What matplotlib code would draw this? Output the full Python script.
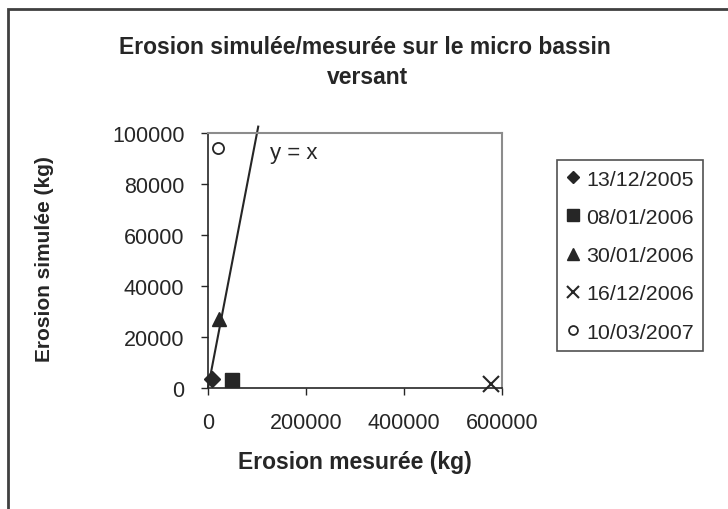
import matplotlib
matplotlib.use("Agg")
import matplotlib.pyplot as plt
from matplotlib.patches import Rectangle

plt.rcParams['font.family'] = ['Liberation Sans', 'DejaVu Sans']

# Données : érosion mesurée / simulée (kg)
dates = ['13/12/2005', '08/01/2006', '30/01/2006', '16/12/2006', '10/03/2007']
erosion_mesuree = [8000, 49000, 22000, 577000, 20000]
erosion_simulee = [3500, 3100, 27000, 1600, 94000]
marqueurs = ['D', 's', '^', 'x', 'o']
ligne_xy = [0, 102500]

ink = '#262626'

fig = plt.figure(figsize=(7.28, 5.10), dpi=100)
ax = fig.add_axes([208 / 728, 1 - 389 / 510, 294 / 728, 255 / 510])

for d, xm, ys, m in zip(dates, erosion_mesuree, erosion_simulee, marqueurs):
    if m == 'o':
        ax.plot(xm, ys, m, ms=8, mfc='white', mec=ink, mew=1.3, label=d, clip_on=False)
    elif m == 'x':
        ax.plot(xm, ys, m, ms=11, mec=ink, mew=1.5, label=d, clip_on=False)
    elif m == 'D':
        ax.plot(xm, ys, m, ms=8, color=ink, label=d, clip_on=False)
    else:
        ax.plot(xm, ys, m, ms=10, color=ink, label=d, clip_on=False)

ax.plot(ligne_xy, ligne_xy, color=ink, lw=1.5, clip_on=False, zorder=1)
ax.text(126500, 92500, 'y = x', fontsize=16, color=ink, va='center', ha='left')

ax.set_xlim(0, 600000)
ax.set_ylim(0, 100000)
ax.set_xticks([0, 200000, 400000, 600000])
ax.set_yticks([0, 20000, 40000, 60000, 80000, 100000])
ax.tick_params(direction='out', length=5, width=1, colors=ink, labelsize=15.5)
ax.tick_params(axis='x', pad=12)
ax.tick_params(axis='y', pad=12)

for s in ['top', 'right']:
    ax.spines[s].set_color('#8c8c8c')
    ax.spines[s].set_linewidth(1.5)
for s in ['left', 'bottom']:
    ax.spines[s].set_color(ink)
    ax.spines[s].set_linewidth(1.2)

fig.text(365 / 728, 1 - 48 / 510, 'Erosion simulée/mesurée sur le micro bassin',
         ha='center', va='center', fontsize=16.5, fontweight='bold', color=ink)
fig.text(368 / 728, 1 - 78 / 510, 'versant',
         ha='center', va='center', fontsize=16.5, fontweight='bold', color=ink)
fig.text(355 / 728, 1 - 463 / 510, 'Erosion mesurée (kg)',
         ha='center', va='center', fontsize=16.5, fontweight='bold', color=ink)
fig.text(45 / 728, 1 - 259 / 510, 'Erosion simulée (kg)', rotation=90,
         ha='center', va='center', fontsize=15, fontweight='bold', color=ink)

leg = fig.legend(loc='upper left', bbox_to_anchor=(557 / 728, 1 - 161 / 510),
                 frameon=True, fancybox=False, fontsize=15.4, handlelength=0.6,
                 handletextpad=0.3, labelspacing=0.9, borderpad=0.45,
                 borderaxespad=0, markerscale=0.8, labelcolor=ink)
leg.get_frame().set_edgecolor(ink)
leg.get_frame().set_linewidth(1.2)

# cadre extérieur (coupé à droite et en bas)
fig.patches.append(Rectangle((8 / 728, -0.2), 2, 1.2 - 10 / 510,
                             transform=fig.transFigure, fill=False,
                             edgecolor='#404040', lw=2))

fig.savefig('out.png', dpi=100)
